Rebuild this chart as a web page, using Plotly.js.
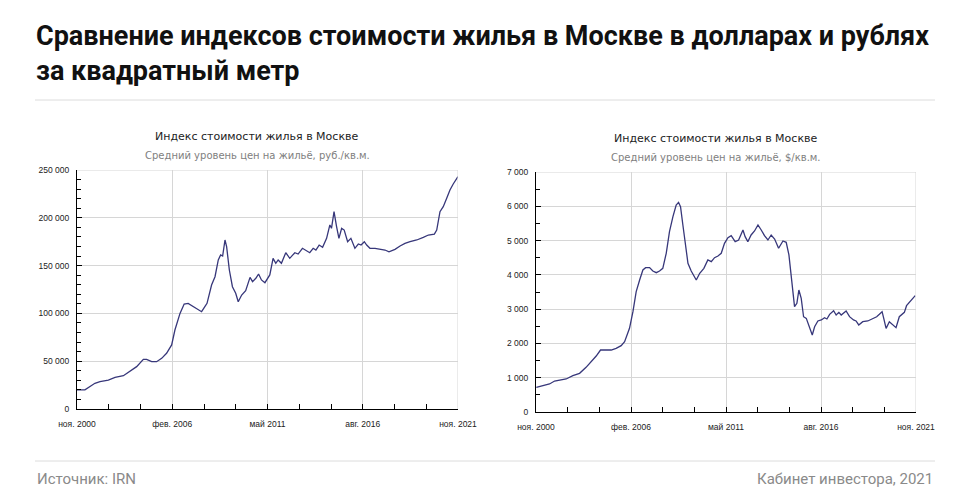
<!DOCTYPE html>
<html>
<head>
<meta charset="utf-8">
<script src="https://cdn.plot.ly/plotly-3.0.1.min.js"></script>
<style>html,body{margin:0;padding:0;background:#fff;}#chart{width:973px;height:495px;}</style>
</head>
<body>
<div id="chart"></div>
<script>
// Rubles per sq.m (decimal years)
var rubYears = [2000.83,2001.27,2001.82,2002.1,2002.56,2002.93,2003.39,2003.85,2004.12,2004.49,2004.67,2004.95,2005.22,2005.5,2005.77,2006.05,2006.23,2006.51,2006.74,2006.96,2007.24,2007.51,2007.7,2007.88,2008.0,2008.25,2008.44,2008.62,2008.75,2008.86,2008.99,2009.08,2009.23,2009.4,2009.58,2009.72,2009.91,2010.13,2010.37,2010.51,2010.69,2010.84,2011.0,2011.19,2011.46,2011.64,2011.79,2011.92,2012.1,2012.34,2012.56,2012.84,2013.02,2013.26,2013.44,2013.66,2013.85,2014.0,2014.18,2014.37,2014.59,2014.77,2014.86,2015.0,2015.14,2015.27,2015.42,2015.56,2015.75,2015.93,2016.15,2016.34,2016.49,2016.67,2016.8,2016.98,2017.26,2017.53,2017.81,2018.03,2018.36,2018.64,2018.91,2019.19,2019.56,2019.92,2020.2,2020.53,2020.66,2020.84,2021.02,2021.21,2021.39,2021.57,2021.76,2021.83];
var rubValues = [20000,20000,26900,28600,30300,33100,34800,40800,44300,52000,52000,49500,49500,53000,58300,67000,82600,100000,109800,110500,107000,103600,101800,107000,110500,129700,138400,155900,161100,160000,176800,169800,145400,127900,121000,112200,119200,123700,137700,133200,136700,141200,135000,132100,140200,157600,152400,155900,152400,163500,157600,163500,162100,168100,166300,163500,168100,166300,171500,169100,178500,192500,189000,206400,190700,178500,189000,187200,175000,178500,168100,172600,171500,175000,171500,168100,168100,167000,166300,164500,167000,170500,173300,175000,176800,179600,182000,183000,187200,206400,211600,220400,229100,235400,241300,243000];

// Dollars per sq.m (decimal years)
var usdYears = [2000.85,2001.2,2001.58,2001.86,2002.14,2002.5,2002.87,2003.24,2003.6,2003.88,2004.16,2004.4,2004.71,2004.99,2005.26,2005.54,2005.73,2006.0,2006.19,2006.37,2006.56,2006.74,2006.89,2007.11,2007.29,2007.48,2007.66,2007.84,2008.03,2008.21,2008.4,2008.58,2008.71,2008.82,2008.95,2009.08,2009.23,2009.41,2009.6,2009.69,2009.88,2010.11,2010.33,2010.52,2010.7,2010.89,2011.07,2011.25,2011.44,2011.62,2011.84,2012.03,2012.27,2012.39,2012.54,2012.72,2012.91,2013.1,2013.28,2013.46,2013.65,2013.83,2014.02,2014.24,2014.48,2014.66,2014.81,2014.94,2015.03,2015.12,2015.25,2015.36,2015.49,2015.62,2015.77,2015.91,2016.1,2016.23,2016.41,2016.6,2016.78,2016.91,2017.06,2017.28,2017.42,2017.57,2017.7,2017.97,2018.16,2018.38,2018.52,2018.67,2018.89,2019.17,2019.35,2019.54,2019.66,2019.81,2019.96,2020.05,2020.18,2020.36,2020.55,2020.73,2020.91,2021.06,2021.19,2021.31,2021.55,2021.79];
var usdValues = [720,760,817,904,933,963,1060,1128,1303,1468,1633,1808,1808,1808,1857,1935,2052,2440,2925,3509,3850,4142,4210,4210,4113,4064,4113,4191,4629,5260,5697,6038,6116,5989,5455,4871,4337,4113,3947,3850,4045,4191,4434,4385,4502,4551,4629,4920,5085,5143,4968,5017,5309,5114,4968,5163,5280,5455,5309,5143,5017,5163,5046,4775,4988,4949,4580,3996,3413,3072,3170,3559,3316,2779,2732,2538,2246,2488,2655,2684,2751,2713,2849,2955,2829,2907,2829,2946,2780,2684,2655,2538,2634,2655,2703,2732,2779,2849,2925,2732,2440,2634,2557,2459,2779,2849,2907,3101,3238,3393];

var tickVals = [2000.833,2006.083,2011.333,2016.583,2021.833];
var tickText = ['ноя. 2000','фев. 2006','май 2011','авг. 2016','ноя. 2021'];

var mainTitle = 'Сравнение индексов стоимости жилья в Москве в долларах и рублях<br>за квадратный метр';
var chartTitle = 'Индекс стоимости жилья в Москве';
var subRub = 'Средний уровень цен на жильё, руб./кв.м.';
var subUsd = 'Средний уровень цен на жильё, $/кв.м.';
var source = 'Источник: IRN';
var credit = 'Кабинет инвестора, 2021';

var lineColor = '#37377a';
var tickFont = {family:'Liberation Sans, Arial, sans-serif', size:8.5, color:'#222'};

function xax(domain){
  return {domain:domain, range:[2000.833,2021.833], tickmode:'array', tickvals:tickVals, ticktext:tickText,
    showline:true, linecolor:'#000', linewidth:1, ticks:'inside', ticklen:5, tickcolor:'#000',
    ticklabelstandoff:7,
    showgrid:true, gridcolor:'#d6d6d6', gridwidth:1, zeroline:false, tickfont:tickFont,
    minor:{tickmode:'linear', tick0:2000.833, dtick:1.75, ticks:'inside', ticklen:5, tickcolor:'#000', showgrid:false},
    fixedrange:true};
}
function yax(domain, maxv, dt, minorDt){
  return {domain:domain, range:[0,maxv], dtick:dt, tick0:0, tickformat:',d',
    showline:true, linecolor:'#000', linewidth:1, ticks:'inside', ticklen:5, tickcolor:'#000',
    ticklabelstandoff:5,
    showgrid:true, gridcolor:'#d6d6d6', gridwidth:1, zeroline:false, tickfont:tickFont,
    minor:{dtick:minorDt, ticks:'inside', ticklen:4, tickcolor:'#000', showgrid:false},
    fixedrange:true};
}

var data = [
  {x:rubYears, y:rubValues, type:'scatter', mode:'lines', line:{color:lineColor, width:1.3}, xaxis:'x', yaxis:'y', hoverinfo:'skip'},
  {x:usdYears, y:usdValues, type:'scatter', mode:'lines', line:{color:lineColor, width:1.3}, xaxis:'x2', yaxis:'y2', hoverinfo:'skip'}
];

var layout = {
  width:973, height:495, margin:{l:0,r:0,t:0,b:0},
  paper_bgcolor:'#fff', plot_bgcolor:'#fff', showlegend:false,
  separators:', ',
  xaxis: xax([77/973, 458/973]),
  yaxis: yax([(495-409)/495, (495-170)/495], 250000, 50000, 10000),
  xaxis2: Object.assign(xax([536/973, 916/973]), {anchor:'y2'}),
  yaxis2: Object.assign(yax([(495-412)/495, (495-172)/495], 7000, 1000, 500), {anchor:'x2'}),
  shapes:[
    {type:'line', xref:'paper', yref:'paper', x0:35/973, x1:935/973, y0:(495-100)/495, y1:(495-100)/495, line:{color:'#dcdcdc', width:1}},
    {type:'line', xref:'paper', yref:'paper', x0:35/973, x1:935/973, y0:(495-461)/495, y1:(495-461)/495, line:{color:'#dcdcdc', width:1}},
    {type:'line', xref:'x', yref:'y', x0:2000.833, x1:2021.833, y0:250000, y1:250000, line:{color:'#d6d6d6', width:1}},
    {type:'line', xref:'x', yref:'y', x0:2021.833, x1:2021.833, y0:0, y1:250000, line:{color:'#d6d6d6', width:1}},
    {type:'line', xref:'x2', yref:'y2', x0:2000.833, x1:2021.833, y0:7000, y1:7000, line:{color:'#d6d6d6', width:1}},
    {type:'line', xref:'x2', yref:'y2', x0:2021.833, x1:2021.833, y0:0, y1:7000, line:{color:'#d6d6d6', width:1}}
  ],
  annotations:[
    {text:'<b>'+mainTitle+'</b>', xref:'paper', yref:'paper', x:34/973, y:(495-18)/495, xanchor:'left', yanchor:'top', align:'left', showarrow:false,
     font:{family:'Roboto, sans-serif', size:27, color:'#111'}},
    {text:chartTitle, xref:'paper', yref:'paper', x:257/973, y:(495-136)/495, xanchor:'center', yanchor:'middle', showarrow:false,
     font:{family:'DejaVu Sans, Verdana, sans-serif', size:11, color:'#222'}},
    {text:subRub, xref:'paper', yref:'paper', x:257/973, y:(495-155)/495, xanchor:'center', yanchor:'middle', showarrow:false,
     font:{family:'DejaVu Sans, Verdana, sans-serif', size:10, color:'#808080'}},
    {text:chartTitle, xref:'paper', yref:'paper', x:716/973, y:(495-138)/495, xanchor:'center', yanchor:'middle', showarrow:false,
     font:{family:'DejaVu Sans, Verdana, sans-serif', size:11, color:'#222'}},
    {text:subUsd, xref:'paper', yref:'paper', x:716/973, y:(495-158)/495, xanchor:'center', yanchor:'middle', showarrow:false,
     font:{family:'DejaVu Sans, Verdana, sans-serif', size:10, color:'#808080'}},
    {text:source, xref:'paper', yref:'paper', x:35/973, y:(495-479)/495, xanchor:'left', yanchor:'middle', showarrow:false,
     font:{family:'Roboto, sans-serif', size:15, color:'#8a8a8a'}},
    {text:credit, xref:'paper', yref:'paper', x:935/973, y:(495-479)/495, xanchor:'right', yanchor:'middle', showarrow:false,
     font:{family:'Roboto, sans-serif', size:15, color:'#8a8a8a'}}
  ]
};

Plotly.newPlot('chart', data, layout, {displayModeBar:false, staticPlot:true});
</script>
</body>
</html>
